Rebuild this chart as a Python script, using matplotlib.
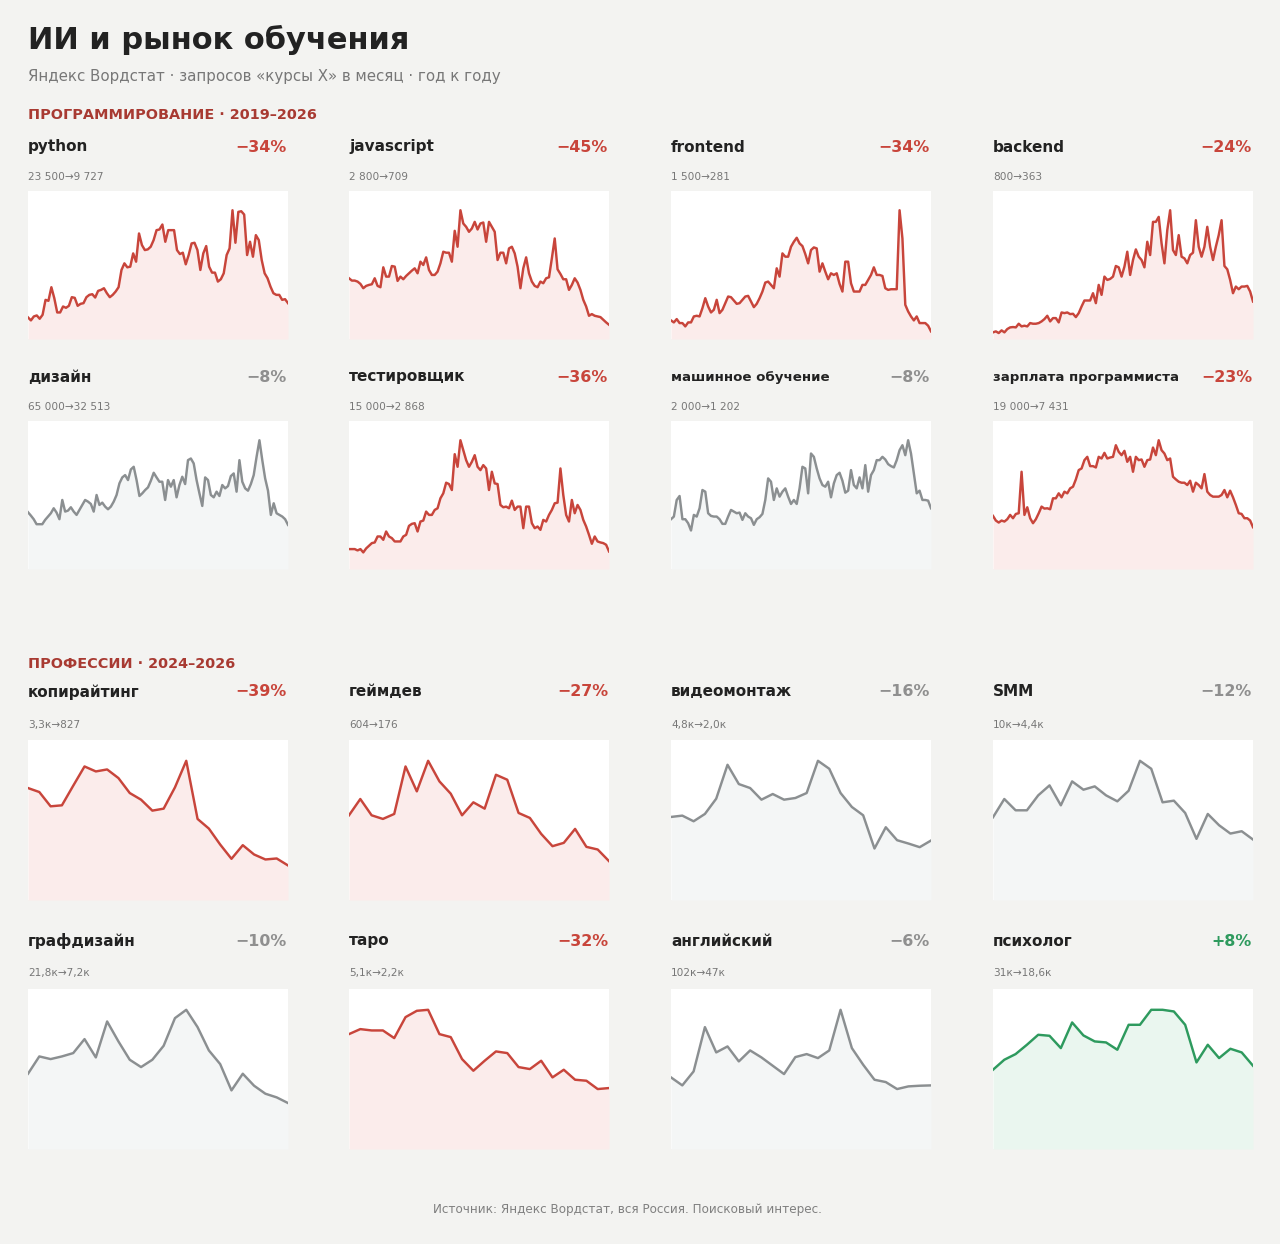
import matplotlib.pyplot as plt
import numpy as np

# ---- data (relative units) ----
prog_names = ["python", "javascript", "frontend", "backend",
              "дизайн", "тестировщик", "машинное обучение", "зарплата программиста"]
prog_changes = ["−34%", "−45%", "−34%", "−24%", "−8%", "−36%", "−8%", "−23%"]
prog_kinds = ["down", "down", "down", "down", "flat", "down", "flat", "down"]
prog_ranges = ["23 500→9 727", "2 800→709", "1 500→281", "800→363",
               "65 000→32 513", "15 000→2 868", "2 000→1 202", "19 000→7 431"]

python_vals = [65, 56, 68, 71, 61, 73, 118, 115, 156, 123,
               80, 80, 98, 94, 100, 126, 124, 100, 106, 108,
               126, 133, 135, 125, 145, 148, 153, 138, 126, 133,
               143, 156, 208, 228, 216, 218, 258, 233, 318, 283,
               268, 270, 278, 298, 328, 330, 345, 293, 328, 328,
               328, 268, 256, 260, 225, 253, 288, 290, 268, 208,
               258, 280, 218, 200, 200, 173, 180, 198, 253, 273,
               388, 290, 383, 385, 375, 253, 293, 248, 313, 298,
               238, 198, 183, 158, 138, 133, 133, 118, 120, 108]
javascript_vals = [183, 176, 176, 173, 166, 153, 160, 163, 165, 183,
                   160, 156, 216, 188, 188, 220, 218, 175, 188, 180,
                   190, 198, 206, 213, 198, 233, 223, 246, 208, 193,
                   193, 203, 228, 263, 260, 260, 233, 326, 278, 388,
                   348, 338, 323, 333, 353, 330, 348, 351, 293, 353,
                   338, 323, 238, 260, 260, 228, 273, 278, 258, 218,
                   153, 213, 246, 198, 173, 160, 156, 173, 168, 183,
                   186, 243, 303, 210, 196, 180, 180, 148, 163, 183,
                   170, 148, 118, 98, 70, 75, 70, 68, 66, 58, 50, 43]
frontend_vals = [56, 50, 60, 48, 48, 38, 50, 50, 68, 70,
                 68, 93, 123, 98, 80, 88, 118, 78, 88, 108,
                 128, 126, 116, 106, 108, 118, 128, 130, 113, 96,
                 106, 123, 143, 170, 173, 163, 153, 213, 188, 258,
                 248, 248, 278, 293, 305, 288, 280, 256, 228, 268,
                 276, 273, 203, 228, 203, 180, 198, 193, 198, 166,
                 143, 233, 233, 168, 143, 143, 143, 163, 163, 178,
                 193, 216, 193, 193, 190, 153, 148, 150, 150, 150,
                 388, 303, 103, 83, 68, 56, 68, 48, 48, 48, 40, 23]
backend_vals = [20, 23, 18, 26, 20, 30, 35, 36, 35, 46,
                38, 40, 38, 48, 46, 46, 48, 53, 60, 70,
                53, 63, 63, 50, 80, 78, 80, 75, 76, 66,
                78, 98, 116, 116, 116, 138, 108, 163, 133, 188,
                178, 181, 188, 220, 216, 188, 218, 263, 193, 238,
                270, 248, 238, 216, 293, 253, 353, 353, 368, 288,
                228, 328, 388, 268, 253, 313, 248, 243, 228, 253,
                260, 358, 278, 248, 278, 338, 278, 238, 278, 313,
                358, 220, 210, 178, 138, 158, 150, 158, 158, 160, 143, 113]
dizain_vals = [171, 161, 150, 135, 135, 135, 148, 158, 168, 183,
               170, 150, 208, 173, 176, 186, 173, 163, 178, 193,
               208, 203, 196, 173, 223, 193, 200, 188, 180, 188,
               203, 223, 258, 276, 283, 268, 300, 308, 268, 220,
               228, 238, 246, 266, 290, 276, 263, 263, 208, 268,
               248, 268, 216, 253, 278, 256, 328, 333, 318, 268,
               228, 190, 276, 268, 223, 216, 233, 220, 253, 243,
               250, 280, 288, 233, 328, 263, 243, 236, 256, 283,
               338, 388, 328, 273, 236, 163, 198, 168, 163, 158, 150, 133]
tester_vals = [60, 60, 60, 56, 60, 50, 62, 70, 78, 80,
               98, 98, 88, 113, 98, 93, 83, 83, 83, 98,
               103, 130, 136, 138, 113, 143, 146, 173, 163, 163,
               178, 183, 213, 228, 260, 256, 238, 346, 308, 388,
               358, 328, 308, 323, 343, 308, 298, 313, 303, 238,
               293, 258, 256, 193, 186, 188, 183, 206, 178, 188,
               188, 123, 188, 188, 138, 123, 128, 118, 148, 143,
               163, 178, 198, 200, 303, 223, 163, 143, 208, 168,
               193, 178, 148, 128, 103, 76, 98, 83, 80, 78, 73, 53]
ml_vals = [150, 158, 208, 220, 150, 150, 138, 116, 163, 158,
           183, 238, 233, 168, 160, 158, 158, 150, 136, 136,
           158, 178, 173, 168, 170, 148, 168, 158, 153, 133,
           150, 156, 166, 208, 273, 263, 208, 243, 218, 233,
           243, 218, 196, 208, 196, 243, 308, 303, 228, 348,
           338, 303, 273, 253, 248, 263, 216, 258, 283, 290,
           266, 230, 236, 298, 253, 243, 276, 243, 313, 233,
           283, 298, 328, 328, 338, 330, 316, 310, 306, 328,
           358, 373, 343, 388, 348, 288, 228, 236, 208, 208, 206, 183]
salary_vals = [160, 146, 140, 146, 143, 150, 163, 153, 166, 168,
               293, 163, 186, 153, 138, 150, 168, 188, 182, 183,
               180, 213, 213, 228, 216, 233, 228, 243, 248, 270,
               298, 303, 328, 338, 310, 310, 306, 338, 333, 350,
               333, 336, 338, 373, 353, 343, 356, 323, 338, 293,
               338, 328, 330, 308, 328, 330, 366, 343, 388, 358,
               348, 328, 333, 278, 270, 263, 260, 260, 253, 266,
               233, 260, 253, 243, 286, 233, 223, 218, 218, 218,
               223, 238, 216, 236, 216, 193, 168, 166, 153, 153, 146, 126]

prof_names = ["копирайтинг", "геймдев", "видеомонтаж", "SMM",
              "графдизайн", "таро", "английский", "психолог"]
prof_changes = ["−39%", "−27%", "−16%", "−12%", "−10%", "−32%", "−6%", "+8%"]
prof_kinds = ["down", "down", "flat", "flat", "flat", "down", "flat", "up"]
prof_ranges = ["3,3к→827", "604→176", "4,8к→2,0к", "10к→4,4к",
               "21,8к→7,2к", "5,1к→2,2к", "102к→47к", "31к→18,6к"]

copy_vals = [337, 325, 282, 285, 344, 402, 387, 393, 367, 322, 302, 269,
             275, 339, 419, 244, 215, 167, 124, 165, 137, 122, 125, 104]
gamedev_vals = [255, 304, 255, 244, 259, 402, 327, 419, 357, 320, 255, 294,
                275, 377, 362, 262, 247, 199, 162, 172, 214, 160, 152, 117]
video_vals = [250, 254, 237, 259, 305, 407, 349, 337, 302, 319, 302, 307,
              322, 419, 395, 322, 280, 255, 155, 219, 180, 170, 159, 179]
smm_vals = [249, 304, 270, 270, 315, 345, 285, 357, 332, 342, 315, 297,
            329, 419, 395, 294, 299, 262, 184, 259, 225, 200, 207, 182]
graph_vals = [226, 278, 270, 278, 288, 330, 275, 383, 323, 268, 246, 268,
              310, 393, 418, 366, 296, 255, 176, 226, 190, 166, 155, 138]
taro_vals = [345, 360, 356, 356, 333, 396, 415, 418, 345, 336, 270, 235,
             265, 293, 288, 246, 240, 265, 215, 238, 208, 205, 180, 183]
english_vals = [215, 191, 233, 366, 290, 308, 263, 296, 275, 250, 225, 276,
                285, 273, 296, 418, 303, 253, 208, 201, 180, 188, 190, 191]
psych_vals = [238, 268, 285, 313, 343, 340, 303, 380, 341, 323, 320, 298,
              373, 373, 418, 418, 413, 373, 260, 313, 273, 301, 290, 250]

prog_series = [python_vals, javascript_vals, frontend_vals, backend_vals,
               dizain_vals, tester_vals, ml_vals, salary_vals]
prof_series = [copy_vals, gamedev_vals, video_vals, smm_vals,
               graph_vals, taro_vals, english_vals, psych_vals]

# ---- styling ----
W, H = 1280, 1244
BG = "#f3f3f1"
COLORS = {"down": "#c8453b", "flat": "#8b8f91", "up": "#2e9a5e"}
FILLS = {"down": "#fbeceb", "flat": "#f4f6f6", "up": "#eaf6ef"}
PCT_COLORS = {"down": "#c8453b", "flat": "#8f8f8f", "up": "#2e9a5e"}

col_left = [28, 349, 671, 993]
panel_w = 260
# (panel top, panel bottom, name y, range y) in pixels
rows = [(191, 339, 147, 177), (421, 569, 377, 407),
        (740, 900, 692, 725), (989, 1149, 941, 973)]

fig = plt.figure(figsize=(W / 100, H / 100), dpi=100)
fig.patch.set_facecolor(BG)


def fx(x):
    return x / W


def fy(y):
    return 1 - y / H


fig.text(fx(28), fy(40), "ИИ и рынок обучения", fontsize=22, fontweight="bold",
         color="#222222", va="center", ha="left")
fig.text(fx(28), fy(76), "Яндекс Вордстат · запросов «курсы X» в месяц · год к году",
         fontsize=10.85, color="#777777", va="center", ha="left")
fig.text(fx(28), fy(115), "ПРОГРАММИРОВАНИЕ · 2019–2026", fontsize=10.35,
         fontweight="bold", color="#a83a32", va="center", ha="left")
fig.text(fx(28), fy(664), "ПРОФЕССИИ · 2024–2026", fontsize=10.35,
         fontweight="bold", color="#a83a32", va="center", ha="left")
fig.text(fx(627), fy(1210), "Источник: Яндекс Вордстат, вся Россия. Поисковый интерес.",
         fontsize=8.65, color="#808080", va="center", ha="center")


def draw_panel(row, col, name, change, kind, rng, vals):
    top, bottom, name_y, rng_y = rows[row]
    left = col_left[col]
    ax = fig.add_axes([fx(left), fy(bottom), fx(panel_w), (bottom - top) / H])
    ax.set_facecolor("white")
    for s in ax.spines.values():
        s.set_visible(False)
    ax.set_xticks([])
    ax.set_yticks([])
    x = np.arange(len(vals))
    v = np.array(vals, dtype=float)
    ax.fill_between(x, 0, v, color=FILLS[kind], lw=0)
    ax.plot(x, v, color=COLORS[kind], lw=1.75, solid_joinstyle="round")
    ax.set_xlim(0, len(vals) - 1)
    ax.set_ylim(0, v.max() / 0.87)

    # long names are set smaller so they fit beside the percentage
    name_size = 11 if len(name) < 15 else 9.6
    fig.text(fx(left), fy(name_y), name, fontsize=name_size, fontweight="bold",
             color="#222222", va="center", ha="left")
    fig.text(fx(left + panel_w - 1), fy(name_y), change, fontsize=11.4, fontweight="bold",
             color=PCT_COLORS[kind], va="center", ha="right")
    fig.text(fx(left), fy(rng_y), rng, fontsize=7.6, color="#777777",
             va="center", ha="left")


for i in range(8):
    draw_panel(i // 4, i % 4, prog_names[i], prog_changes[i], prog_kinds[i],
               prog_ranges[i], prog_series[i])
for i in range(8):
    draw_panel(2 + i // 4, i % 4, prof_names[i], prof_changes[i], prof_kinds[i],
               prof_ranges[i], prof_series[i])

fig.savefig("out.png", dpi=100, facecolor=fig.get_facecolor())
